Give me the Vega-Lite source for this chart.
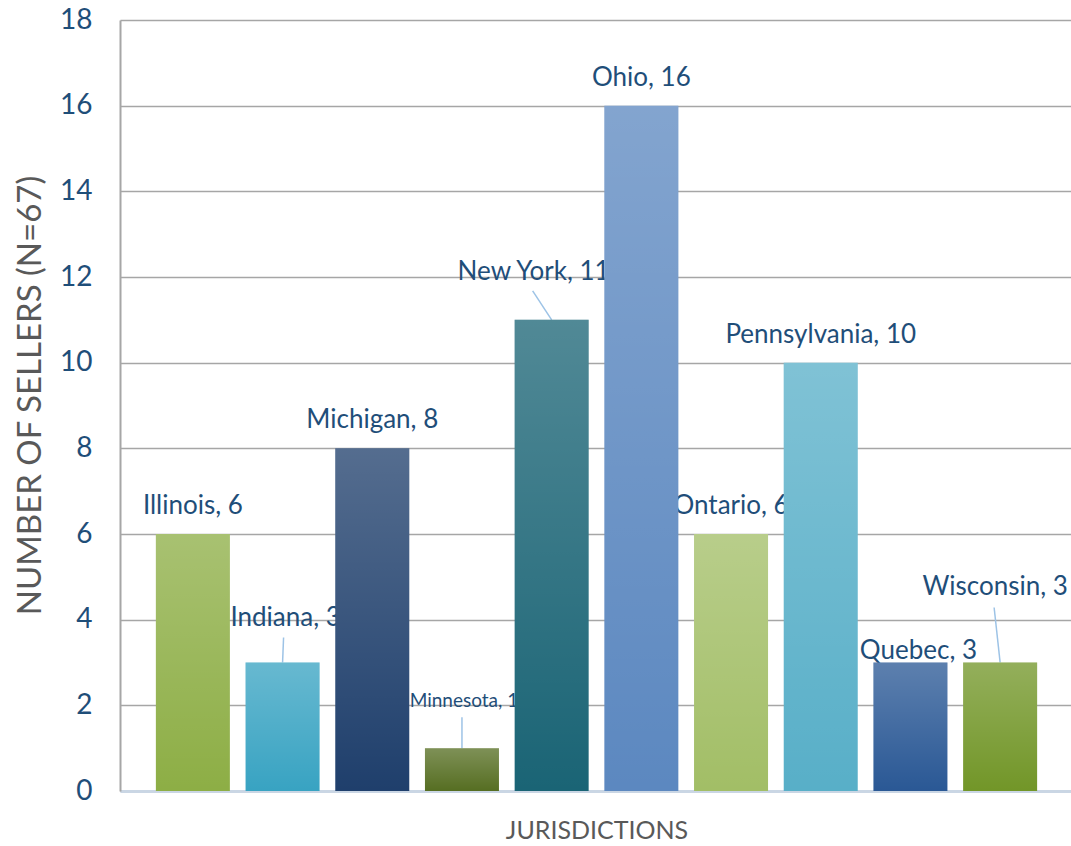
{
  "$schema": "https://vega.github.io/schema/vega-lite/v6.json",
  "width": 953,
  "height": 771,
  "autosize": "none",
  "padding": {"left": 120, "top": 20, "right": 0, "bottom": 55},
  "background": "white",
  "config": {"view": {"stroke": null}, "font": "Lato"},
  "data": {
    "values": [
      {"jur": "Illinois", "n": 6},
      {"jur": "Indiana", "n": 3},
      {"jur": "Michigan", "n": 8},
      {"jur": "Minnesota", "n": 1},
      {"jur": "New York", "n": 11},
      {"jur": "Ohio", "n": 16},
      {"jur": "Ontario", "n": 6},
      {"jur": "Pennsylvania", "n": 10},
      {"jur": "Quebec", "n": 3},
      {"jur": "Wisconsin", "n": 3}
    ]
  },
  "transform": [{"calculate": "datum.jur + ', ' + datum.n", "as": "label"}],
  "encoding": {
    "x": {
      "field": "jur", "type": "nominal", "sort": null,
      "scale": {
        "domain": ["Illinois", "Indiana", "Michigan", "Minnesota", "New York", "Ohio", "Ontario", "Pennsylvania", "Quebec", "Wisconsin"],
        "paddingInner": 0.175, "paddingOuter": 0.4
      },
      "axis": {
        "labels": false, "ticks": false, "title": "JURISDICTIONS",
        "domainColor": "#CAD6E4", "domainWidth": 3,
        "titleFont": "Lato", "titleFontSize": 25, "titleFontWeight": "normal",
        "titleColor": "#595959", "titleY": 39, "titleBaseline": "middle"
      }
    },
    "y": {
      "field": "n", "type": "quantitative",
      "scale": {"domain": [0, 18], "nice": false, "zero": true},
      "axis": {
        "values": [0, 2, 4, 6, 8, 10, 12, 14, 16, 18],
        "title": "NUMBER OF SELLERS (N=67)",
        "grid": true, "gridColor": "#A6A6A6", "gridWidth": 1.5,
        "domainColor": "#A6A6A6", "domainWidth": 2,
        "ticks": false, "labelPadding": 28, "labelFontSize": 28,
        "labelColor": "#1F4E79", "labelFont": "Lato", "labelOverlap": false,
        "labelFlush": false,
        "titleFont": "Lato", "titleFontSize": 33, "titleFontWeight": "normal",
        "titleColor": "#595959", "titleX": -90, "titleY": 375,
        "titleAlign": "center", "titleBaseline": "middle", "titleAngle": -90
      }
    }
  },
  "layer": [
    {
      "transform": [{"filter": {"field": "jur", "oneOf": ["Illinois", "Michigan", "Ohio", "Ontario", "Pennsylvania"]}}],
      "mark": {"type": "text", "fontSize": 26, "color": "#1F4E79", "baseline": "middle", "align": "center", "dy": -28},
      "encoding": {"text": {"field": "label"}}
    },
    {
      "transform": [{"filter": "datum.jur == 'Indiana'"}],
      "mark": {"type": "text", "fontSize": 26, "color": "#1F4E79", "baseline": "middle", "align": "center", "dy": -45, "dx": 3},
      "encoding": {"text": {"field": "label"}}
    },
    {
      "transform": [{"filter": "datum.jur == 'Minnesota'"}],
      "mark": {"type": "text", "fontSize": 19, "color": "#1F4E79", "baseline": "middle", "align": "center", "dy": -47, "dx": 2},
      "encoding": {"text": {"field": "label"}}
    },
    {
      "transform": [{"filter": "datum.jur == 'New York'"}],
      "mark": {"type": "text", "fontSize": 26, "color": "#1F4E79", "baseline": "middle", "align": "center", "dy": -48, "dx": -18},
      "encoding": {"text": {"field": "label"}}
    },
    {
      "transform": [{"filter": "datum.jur == 'Quebec'"}],
      "mark": {"type": "text", "fontSize": 26, "color": "#1F4E79", "baseline": "middle", "align": "center", "dy": -12, "dx": 8},
      "encoding": {"text": {"field": "label"}}
    },
    {
      "transform": [{"filter": "datum.jur == 'Wisconsin'"}],
      "mark": {"type": "text", "fontSize": 26, "color": "#1F4E79", "baseline": "middle", "align": "center", "dy": -76, "dx": -5},
      "encoding": {"text": {"field": "label"}}
    },
    {
      "transform": [{"filter": "datum.jur == 'Indiana'"}],
      "mark": {"type": "rule", "color": "#9DC3E6", "strokeWidth": 1.5, "x2Offset": 1, "y2Offset": -25},
      "encoding": {"x2": {"field": "jur"}, "y2": {"field": "n"}}
    },
    {
      "transform": [{"filter": "datum.jur == 'Minnesota'"}],
      "mark": {"type": "rule", "color": "#9DC3E6", "strokeWidth": 1.5, "y2Offset": -31},
      "encoding": {"x2": {"field": "jur"}, "y2": {"field": "n"}}
    },
    {
      "transform": [{"filter": "datum.jur == 'New York'"}],
      "mark": {"type": "rule", "color": "#9DC3E6", "strokeWidth": 1.5, "x2Offset": -19, "y2Offset": -29},
      "encoding": {"x2": {"field": "jur"}, "y2": {"field": "n"}}
    },
    {
      "transform": [{"filter": "datum.jur == 'Wisconsin'"}],
      "mark": {"type": "rule", "color": "#9DC3E6", "strokeWidth": 1.5, "x2Offset": -6, "y2Offset": -55},
      "encoding": {"x2": {"field": "jur"}, "y2": {"field": "n"}}
    },
    {
      "mark": {"type": "bar"},
      "encoding": {
        "color": {
          "field": "jur", "type": "nominal", "legend": null,
          "scale": {
            "domain": ["Illinois", "Indiana", "Michigan", "Minnesota", "New York", "Ohio", "Ontario", "Pennsylvania", "Quebec", "Wisconsin"],
            "range": ["#8DAE45", "#38A3C2", "#1F3F6C", "#566E22", "#1A6475", "#5C88C0", "#A2BE66", "#58AFC8", "#2A5895", "#729628"]
          }
        }
      }
    },
    {
      "mark": {
        "type": "bar",
        "color": {
          "gradient": "linear", "x1": 0, "y1": 0, "x2": 0, "y2": 1,
          "stops": [
            {"offset": 0, "color": "rgba(255,255,255,0.24)"},
            {"offset": 1, "color": "rgba(255,255,255,0)"}
          ]
        }
      }
    }
  ]
}
